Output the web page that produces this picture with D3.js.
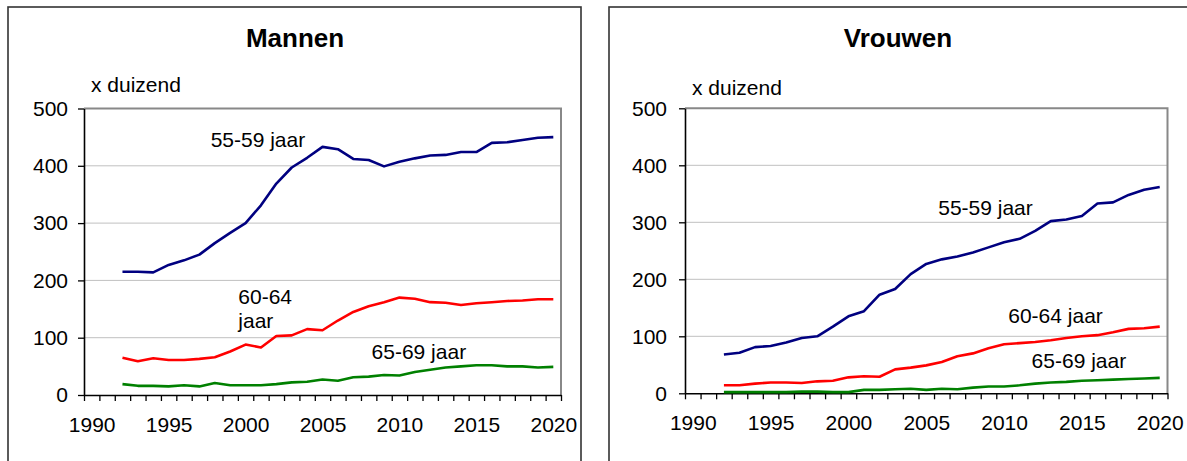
<!DOCTYPE html>
<html>
<head>
<meta charset="utf-8">
<script src="https://cdn.jsdelivr.net/npm/d3@7"></script>
<style>
    body { margin: 0; background: #fff; }
    text { font-family: "Liberation Sans", Arial, sans-serif; fill: #000; }
</style>
</head>
<body>
<div id="chart"></div>
<script>

// data (x 1000)
const years = d3.range(1992, 2021);
const xLabels = [1990, 1995, 2000, 2005, 2010, 2015, 2020];
const yTicks = [0, 100, 200, 300, 400, 500];

const mannen5559 = [215, 215, 214, 227, 235, 245, 265, 283, 300, 331, 369, 397, 414, 433, 429,
                    412, 410, 399, 407, 413, 418, 419, 424, 424, 440, 441, 445, 449, 450];
const mannen6064 = [65, 59, 64, 61, 61, 63, 66, 76, 88, 83, 103, 104, 115, 113, 130,
                    145, 155, 162, 170, 168, 162, 161, 157, 160, 162, 164, 165, 167, 167];
const mannen6569 = [19, 16, 16, 15, 17, 15, 21, 17, 17, 17, 19, 22, 23, 27, 25,
                    31, 32, 35, 34, 40, 44, 48, 50, 52, 52, 50, 50, 48, 49];

const vrouwen5559 = [68, 71, 81, 83, 89, 97, 100, 117, 135, 144, 173, 183, 209, 227, 235,
                     240, 247, 256, 265, 271, 285, 302, 305, 311, 333, 335, 348, 357, 362];
const vrouwen6064 = [14, 14, 17, 19, 19, 18, 21, 22, 28, 30, 29, 42, 45, 49, 55,
                     65, 70, 79, 86, 88, 90, 93, 97, 100, 102, 107, 113, 114, 117];
const vrouwen6569 = [2, 2, 2, 2, 2, 3, 3, 2, 2, 6, 6, 7, 8, 6, 8,
                     7, 10, 12, 12, 14, 17, 19, 20, 22, 23, 24, 25, 26, 27];

const colors = { "55-59": "#000080", "60-64": "#ff0000", "65-69": "#008000" };

const width = 1187, height = 461;

let svg = d3.select("#chart")
    .append("svg")
        .attr("width", width)
        .attr("height", height);

function drawPanel(p) {
    // outer frame
    svg.append("rect")
        .attr("x", p.frame[0]).attr("y", p.frame[1])
        .attr("width", p.frame[2]).attr("height", p.frame[3])
        .attr("fill", "none")
        .attr("stroke", "#333")
        .attr("stroke-width", 1.6);

    let xScale = d3.scaleLinear()
                    .domain([1990, 2021])
                    .range([p.left, p.right]);

    let yScale = d3.scaleLinear()
                    .domain([0, 500])
                    .range([p.bottom, p.top]);

    // gridlines
    svg.append("g")
        .selectAll("line")
        .data(yTicks.slice(1, -1))
        .join("line")
            .attr("x1", p.left).attr("x2", p.right)
            .attr("y1", d => yScale(d)).attr("y2", d => yScale(d))
            .attr("stroke", "#c0c0c0")
            .attr("stroke-width", 1);

    // plot area border, top and right
    svg.append("path")
        .attr("d", `M${p.left},${yScale(500)}H${p.right}V${yScale(0)}`)
        .attr("fill", "none")
        .attr("stroke", "#888")
        .attr("stroke-width", 2);

    // y axis
    svg.append("g")
        .attr("transform", `translate(${p.left}, 0)`)
        .call(d3.axisLeft(yScale).tickValues(yTicks).tickSize(6).tickSizeOuter(0).tickPadding(p.yPad))
        .attr("font-size", 21)
        .attr("font-family", "Liberation Sans, Arial, sans-serif")
        .call(g => g.select(".domain").attr("stroke", "#000").attr("stroke-width", 1.6))
        .call(g => g.selectAll(".tick line").attr("stroke", "#000").attr("stroke-width", 1.3));

    // x axis ticks between the years
    svg.append("g")
        .attr("transform", `translate(0, ${p.bottom})`)
        .call(d3.axisBottom(xScale).tickValues(d3.range(1990, 2022)).tickFormat("").tickSize(6).tickSizeOuter(0))
        .call(g => g.select(".domain").attr("stroke", "#000").attr("stroke-width", 1.6))
        .call(g => g.selectAll(".tick line").attr("stroke", "#000").attr("stroke-width", 1.3));

    // x labels, centred on the year
    svg.append("g")
        .attr("transform", `translate(0, ${p.bottom})`)
        .call(d3.axisBottom(xScale).tickValues(xLabels.map(d => d + 0.5)).tickFormat(d => d - 0.5).tickSize(0).tickPadding(22))
        .attr("font-size", 21)
        .attr("font-family", "Liberation Sans, Arial, sans-serif")
        .call(g => g.select(".domain").remove());

    // title
    svg.append("text")
        .attr("x", p.titleX).attr("y", 47)
        .attr("text-anchor", "middle")
        .attr("font-size", 26)
        .attr("font-weight", "bold")
        .text(p.title);

    svg.append("text")
        .attr("x", p.left + 7).attr("y", p.unitY)
        .attr("font-size", 21)
        .text("x duizend");

    let line = d3.line()
        .x((d, i) => xScale(years[i] + 0.5))
        .y(d => yScale(d));

    p.series.forEach(s => {
        svg.append("path")
            .datum(s.values)
            .attr("d", line)
            .attr("fill", "none")
            .attr("stroke", colors[s.name])
            .attr("stroke-width", 2.6)
            .attr("stroke-linejoin", "round");
    });

    // series labels, anchored in data units
    p.labels.forEach(l => {
        let t = svg.append("text")
            .attr("x", xScale(l.year))
            .attr("y", yScale(l.value))
            .attr("font-size", 21);
        l.lines.forEach((s, i) => {
            t.append("tspan")
                .attr("x", xScale(l.year))
                .attr("dy", i === 0 ? 0 : 24)
                .text(s);
        });
    });
}

drawPanel({
    title: "Mannen",
    frame: [8, 7, 573, 470],
    titleX: 295,
    left: 84, right: 561, top: 108.5, bottom: 395,
    yPad: 10, unitY: 92,
    series: [
        { name: "55-59", values: mannen5559 },
        { name: "60-64", values: mannen6064 },
        { name: "65-69", values: mannen6569 }
    ],
    labels: [
        { lines: ["55-59 jaar"], year: 1998.23, value: 433 },
        { lines: ["60-64", "jaar"], year: 2000.03, value: 158 },
        { lines: ["65-69 jaar"], year: 2008.69, value: 63 }
    ]
});

drawPanel({
    title: "Vrouwen",
    frame: [609, 7, 600, 470],
    titleX: 898,
    left: 685, right: 1167.5, top: 108.3, bottom: 393.3,
    yPad: 12, unitY: 95,
    series: [
        { name: "55-59", values: vrouwen5559 },
        { name: "60-64", values: vrouwen6064 },
        { name: "65-69", values: vrouwen6569 }
    ],
    labels: [
        { lines: ["55-59 jaar"], year: 2006.27, value: 313 },
        { lines: ["60-64 jaar"], year: 2010.77, value: 124 },
        { lines: ["65-69 jaar"], year: 2012.27, value: 44 }
    ]
});

</script>
</body>
</html>
